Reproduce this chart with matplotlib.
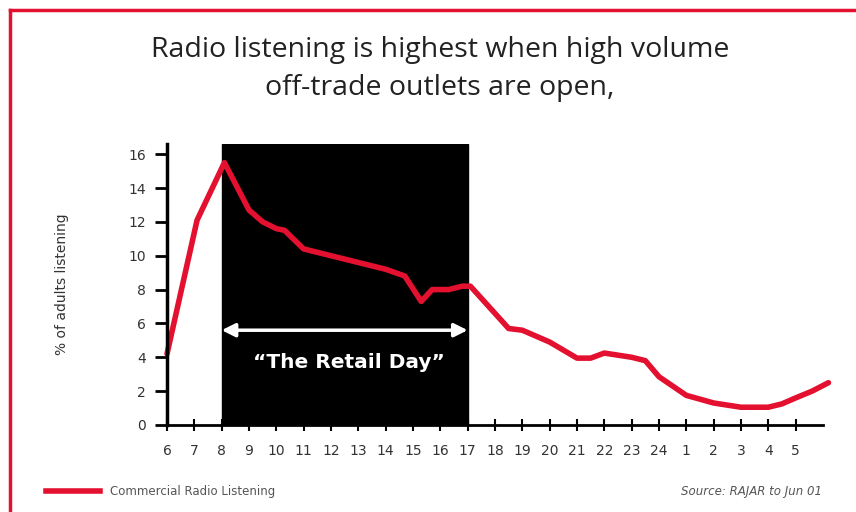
import matplotlib
matplotlib.use("Agg")
import matplotlib.pyplot as plt
from matplotlib.lines import Line2D

# Hour of day (6 = 6am, 24 = midnight, 30 = 6am next day) and % of adults listening
hours = [6, 7.1, 8.1, 9.0, 9.5, 10.0, 10.3, 11.0, 11.5, 12.0, 13.0, 14.0, 14.7,
         15.3, 15.7, 16.3, 16.8, 17.1, 18.5, 19.0, 20.0, 21.0, 21.5, 22.0, 23.0,
         23.5, 24.0, 25.0, 26.0, 27.0, 28.0, 28.5, 29.0, 29.6, 30.2]
listening = [4.2, 12.1, 15.5, 12.7, 12.0, 11.6, 11.5, 10.4, 10.2, 10.0, 9.6, 9.2, 8.8,
             7.3, 8.0, 8.0, 8.2, 8.2, 5.7, 5.6, 4.9, 3.95, 3.95, 4.25, 4.0,
             3.8, 2.85, 1.75, 1.3, 1.05, 1.05, 1.25, 1.6, 2.0, 2.5]

tick_positions = list(range(6, 30))
tick_labels = [str(h) for h in range(6, 25)] + [str(h) for h in range(1, 6)]
y_ticks = [0, 2, 4, 6, 8, 10, 12, 14, 16]

retail_start, retail_end = 8, 17

W, H = 856, 512
fig = plt.figure(figsize=(W / 100, H / 100), dpi=100)
fig.patch.set_facecolor("white")

red = "#e3102f"
text_grey = "#333333"

# Axes placement in pixels
left, right, bottom, top = 167, 823, 425, 144
ax = fig.add_axes([left / W, 1 - bottom / H, (right - left) / W, (bottom - top) / H])
ax.set_xlim(6, 30)
ax.set_ylim(0, 16.6)

# Black "retail day" block
ax.axvspan(retail_start, retail_end, ymin=0, ymax=1, color="black", zorder=1)

# Listening curve
ax.plot(hours, listening, color=red, lw=4, solid_joinstyle="round",
        solid_capstyle="round", zorder=3, clip_on=False)

# Double-headed arrow spanning the retail day
ax.annotate("", xy=(retail_end, 5.6), xytext=(retail_start, 5.6),
            arrowprops=dict(arrowstyle="<|-|>", color="white", lw=2.5,
                            mutation_scale=20, shrinkA=0, shrinkB=0),
            zorder=4)
ax.text(12.65, 3.7, "\u201cThe Retail Day\u201d", color="white", fontsize=14.5,
        fontweight="bold", ha="center", va="center", zorder=4)

# Spines and ticks
for s in ["top", "right"]:
    ax.spines[s].set_visible(False)
ax.spines["left"].set_linewidth(2.5)
ax.spines["bottom"].set_linewidth(2)
ax.spines["left"].set_zorder(5)
ax.set_yticks(y_ticks)
ax.set_yticklabels([str(v) for v in y_ticks])
ax.set_xticks(tick_positions)
ax.set_xticklabels(tick_labels)
ax.tick_params(axis="y", direction="out", length=9, width=2, labelsize=10,
               colors="black", labelcolor=text_grey, pad=6)
ax.tick_params(axis="x", direction="inout", length=8, width=1.5, labelsize=10,
               labelcolor=text_grey, pad=10)
ax.set_ylabel("% of adults listening", fontsize=10, color=text_grey, labelpad=43)

# Title
fig.text(440 / W, 1 - 50 / H, "Radio listening is highest when high volume",
         fontsize=20.5, ha="center", va="center", color="#222222",
         family="Open Sans")
fig.text(440 / W, 1 - 88 / H, "off-trade outlets are open,",
         fontsize=20.5, ha="center", va="center", color="#222222",
         family="Open Sans")

# Legend entry and source
fig.add_artist(Line2D([46 / W, 100 / W], [1 - 491 / H, 1 - 491 / H],
                      color=red, lw=4, transform=fig.transFigure))
fig.text(110 / W, 1 - 491 / H, "Commercial Radio Listening", fontsize=8.5,
         color="#555555", va="center", ha="left")
fig.text(822 / W, 1 - 491 / H, "Source: RAJAR to Jun 01", fontsize=8.5,
         color="#555555", va="center", ha="right", style="italic")

# Red frame along top and left edges
fig.add_artist(Line2D([10 / W, 1.0], [1 - 10 / H, 1 - 10 / H], color=red, lw=2.5,
                      transform=fig.transFigure))
fig.add_artist(Line2D([10 / W, 10 / W], [0, 1 - 10 / H], color=red, lw=2.5,
                      transform=fig.transFigure))

fig.savefig("out.png", dpi=100)
